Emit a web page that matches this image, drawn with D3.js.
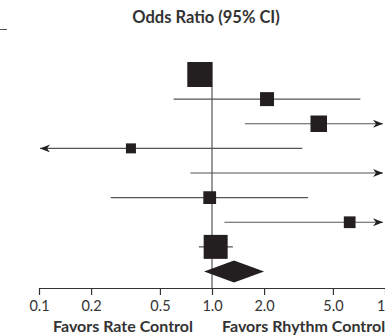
<!DOCTYPE html>
<html>
<head>
<meta charset="utf-8">
<script src="https://cdn.jsdelivr.net/npm/d3@7"></script>
<style>
  body { margin: 0; background: #fff; }
  svg { display: block; font-family: Lato, "Open Sans", sans-serif; }
</style>
</head>
<body>
<script>
// Study rows, top to bottom (last row is the pooled estimate)
const rows = ["s1", "s2", "s3", "s4", "s5", "s6", "s7", "s8", "pooled"];
const oddsRatio = [0.85, 2.08, 4.14, 0.34, null, 0.97, 6.25, 1.05, 1.34];
const lower = [0.78, 0.6, 1.55, 0.1, 0.75, 0.26, 1.18, 0.84, 0.9];
const upper = [0.95, 7.2, 10, 3.33, 10, 3.59, 10, 1.32, 2.0];
const arrowLeft = [false, false, false, true, false, false, false, false, false];
const arrowRight = [false, false, true, false, true, false, true, false, false];
const weights = [25, 7.8, 10.9, 4, 0, 6.5, 5.5, 23, null];
const tickValues = [0.1, 0.2, 0.5, 1, 2, 5, 10];
const tickLabels = ["0.1", "0.2", "0.5", "1.0", "2.0", "5.0", "10"];

const width = 385, height = 335;
const ink = "#231f20", grey = "#555";

const svg = d3.select("body").append("svg")
  .attr("width", width)
  .attr("height", height);

const x = d3.scaleLog().domain([0.1, 10]).range([39, 385]);
const y = d3.scalePoint().domain(rows).range([74.5, 271.5]);
const size = d3.scaleSqrt().domain([0, 25]).range([0, 25]);
const axisY = 288;

// arrowheads
const defs = svg.append("defs");
defs.append("marker")
  .attr("id", "arrow")
  .attr("viewBox", "0 0 10 8")
  .attr("refX", 10).attr("refY", 4)
  .attr("markerWidth", 10).attr("markerHeight", 8)
  .attr("markerUnits", "userSpaceOnUse")
  .attr("orient", "auto-start-reverse")
  .append("path")
  .attr("d", "M0,0 L10,4 L0,8 L3,4 Z")
  .attr("fill", ink);

// title
svg.append("text")
  .attr("x", 206)
  .attr("y", 23)
  .attr("text-anchor", "middle")
  .attr("font-size", 16.5)
  .attr("font-weight", 700)
  .attr("fill", "#333")
  .text("Odds Ratio (95% CI)");

// table rule fragment at top-left
svg.append("line")
  .attr("x1", 0).attr("x2", 7)
  .attr("y1", 29.5).attr("y2", 29.5)
  .attr("stroke", grey).attr("stroke-width", 1);

// line of no effect
svg.append("line")
  .attr("x1", x(1)).attr("x2", x(1))
  .attr("y1", 62).attr("y2", axisY)
  .attr("stroke", grey).attr("stroke-width", 1.2);

const study = rows.slice(0, 8).map((r, i) => ({
  row: r, or: oddsRatio[i], lo: lower[i], hi: upper[i],
  left: arrowLeft[i], right: arrowRight[i], w: weights[i]
}));

// confidence intervals
svg.append("g")
  .selectAll("line")
  .data(study)
  .join("line")
  .attr("x1", d => d.left ? x(d.lo) + 1 : x(d.lo))
  .attr("x2", d => d.right ? x(d.hi) - 2 : x(d.hi))
  .attr("y1", d => y(d.row))
  .attr("y2", d => y(d.row))
  .attr("stroke", grey)
  .attr("stroke-width", 1.2)
  .attr("marker-end", d => d.right ? "url(#arrow)" : null)
  .attr("marker-start", d => d.left ? "url(#arrow)" : null);

// point estimates
svg.append("g")
  .selectAll("rect")
  .data(study.filter(d => d.or != null && d.w > 0))
  .join("rect")
  .attr("x", d => x(d.or) - size(d.w) / 2)
  .attr("y", d => y(d.row) - size(d.w) / 2)
  .attr("width", d => size(d.w))
  .attr("height", d => size(d.w))
  .attr("fill", ink);

// pooled diamond
const p = rows.length - 1;
const py = y(rows[p]);
svg.append("path")
  .attr("d", `M${x(lower[p])},${py} L${x(oddsRatio[p])},${py - 11} L${x(upper[p])},${py} L${x(oddsRatio[p])},${py + 11} Z`)
  .attr("fill", ink);

// x axis
const axis = d3.axisBottom(x)
  .tickValues(tickValues)
  .tickFormat((d, i) => tickLabels[i])
  .tickSize(7)
  .tickSizeOuter(0);

const gx = svg.append("g")
  .attr("transform", `translate(0,${axisY})`)
  .call(axis);
gx.select(".domain").attr("stroke", "#333").attr("stroke-width", 1.2);
gx.selectAll(".tick line").attr("stroke", "#333").attr("stroke-width", 1.2);
gx.selectAll(".tick text")
  .attr("y", 13)
  .attr("font-size", 14.5)
  .attr("font-family", "Lato, sans-serif")
  .attr("fill", "#333");

// direction labels
svg.append("text")
  .attr("x", 53)
  .attr("y", 331.5)
  .attr("font-size", 16)
  .attr("font-weight", 700)
  .attr("fill", "#333")
  .text("Favors Rate Control");

svg.append("text")
  .attr("x", 222)
  .attr("y", 331.5)
  .attr("font-size", 16)
  .attr("font-weight", 700)
  .attr("fill", "#333")
  .text("Favors Rhythm Control");
</script>
</body>
</html>
